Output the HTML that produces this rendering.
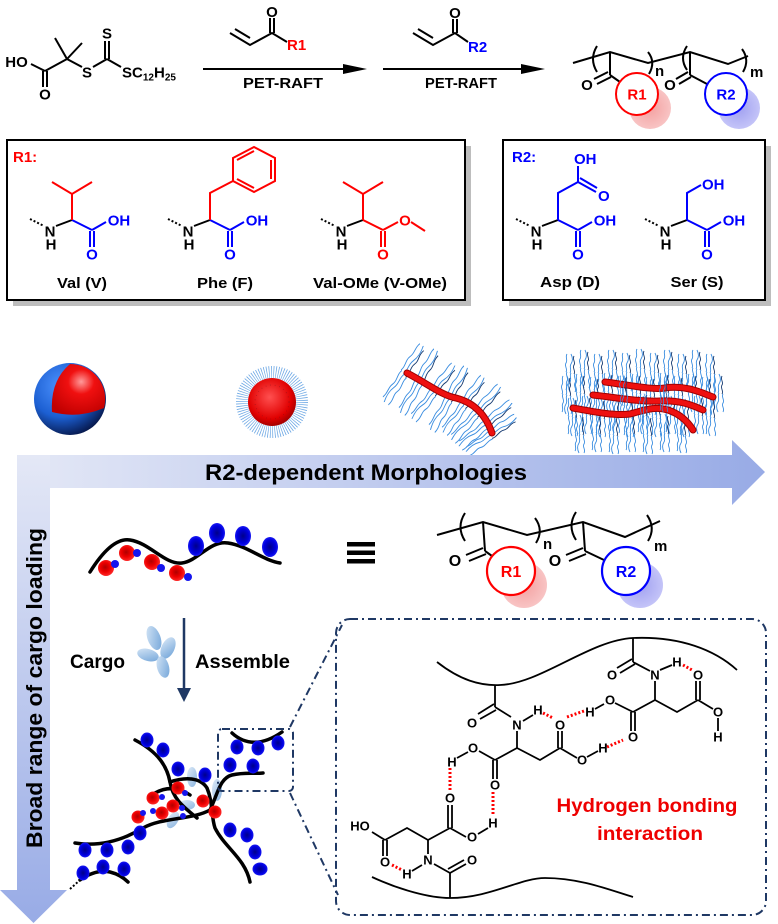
<!DOCTYPE html>
<html><head><meta charset="utf-8">
<style>
html,body{margin:0;padding:0;background:#fff;}
svg{display:block;}
.t{font-family:"Liberation Sans",Arial,sans-serif;font-weight:bold;}
.n{font-family:"Liberation Sans",Arial,sans-serif;}
</style></head><body>
<svg width="778" height="924" viewBox="0 0 778 924">
<defs>
 <linearGradient id="gh" x1="0" x2="1" y1="0" y2="0"><stop offset="0" stop-color="#e4e8f6"/><stop offset="1" stop-color="#98abe6"/></linearGradient>
 <linearGradient id="gv" x1="0" x2="0" y1="0" y2="1"><stop offset="0" stop-color="#e4e8f6"/><stop offset="1" stop-color="#98abe6"/></linearGradient>
 <radialGradient id="sb" cx="0.38" cy="0.32" r="0.72"><stop offset="0" stop-color="#4d93ff"/><stop offset="0.6" stop-color="#1c5fd2"/><stop offset="1" stop-color="#06174a"/></radialGradient>
 <radialGradient id="sr" cx="0.55" cy="0.35" r="0.7"><stop offset="0" stop-color="#ff9a9a"/><stop offset="0.35" stop-color="#f01010"/><stop offset="1" stop-color="#c00000"/></radialGradient>
 <radialGradient id="rb" cx="0.45" cy="0.45" r="0.6"><stop offset="0" stop-color="#b00000"/><stop offset="0.5" stop-color="#ee0000"/><stop offset="1" stop-color="#ff3030"/></radialGradient>
 <radialGradient id="bb" cx="0.5" cy="0.5" r="0.6"><stop offset="0" stop-color="#00008a"/><stop offset="0.6" stop-color="#0000e0"/><stop offset="1" stop-color="#2a2aff"/></radialGradient>
 <radialGradient id="mc" cx="0.45" cy="0.4" r="0.65"><stop offset="0" stop-color="#ff5050"/><stop offset="0.7" stop-color="#e00000"/><stop offset="1" stop-color="#900000"/></radialGradient>
 <linearGradient id="lc" x1="0" x2="1" y1="0" y2="1"><stop offset="0" stop-color="#d9e8f7"/><stop offset="1" stop-color="#6fa3d8"/></linearGradient>
 <radialGradient id="shr" cx="0.5" cy="0.5" r="0.5"><stop offset="0" stop-color="#f4a0a0"/><stop offset="1" stop-color="#f8c4c4"/></radialGradient>
 <radialGradient id="shb" cx="0.5" cy="0.5" r="0.5"><stop offset="0" stop-color="#a0a0f0"/><stop offset="1" stop-color="#c4c4f8"/></radialGradient>
 <g id="tf" fill="none" stroke="#3a8de0" stroke-width="0.9">
  <path d="M0,0 c2,-3 -2,-6 0,-9 s-1,-6 1,-9"/>
  <path d="M4,1 c2,-3 -1,-6 1,-9 s2,-6 0,-10"/>
  <path d="M8,2 c2,-3 -2,-6 0,-9 s-2,-5 0,-9" stroke="#163a70"/>
  <path d="M1,0 c-2,3 2,6 0,9 s1,6 -1,9"/>
  <path d="M5,1 c-2,3 1,6 -1,9 s-2,6 0,10"/>
  <path d="M9,2 c-2,3 2,6 0,9 s2,5 0,9"/>
 </g>
</defs>
<rect width="778" height="924" fill="#fff"/>

<!-- ===== TOP SCHEME ===== -->
<g stroke="#000" stroke-width="2" fill="none">
 <line x1="31" y1="64" x2="45" y2="71"/>
 <line x1="43" y1="71" x2="43" y2="87"/><line x1="47" y1="71" x2="47" y2="87"/>
 <line x1="45" y1="71" x2="67" y2="59"/>
 <line x1="67" y1="59" x2="55" y2="38"/>
 <line x1="67" y1="59" x2="82" y2="43"/>
 <line x1="67" y1="59" x2="82" y2="67"/>
 <line x1="93" y1="67" x2="107" y2="59"/>
 <line x1="105" y1="59" x2="105" y2="41"/><line x1="109" y1="59" x2="109" y2="41"/>
 <line x1="107" y1="59" x2="121" y2="67"/>
 <polyline points="230,33 250,45 272,33 287,42"/>
 <line x1="235" y1="29" x2="250" y2="38"/>
 <line x1="270" y1="33" x2="270" y2="18"/><line x1="274" y1="33" x2="274" y2="18"/>
 <polyline points="413,33 433,45 455,33 468,42"/>
 <line x1="418" y1="29" x2="433" y2="38"/>
 <line x1="453" y1="33" x2="453" y2="19"/><line x1="457" y1="33" x2="457" y2="19"/>
 <line x1="203" y1="69" x2="350" y2="69"/>
 <line x1="383" y1="69" x2="528" y2="69"/>
</g>
<polygon points="343,64 367,69 343,74" fill="#000"/>
<polygon points="521,64 545,69 521,74" fill="#000"/>
<g class="t" font-size="15" fill="#000" text-anchor="middle">
 <text x="16.5" y="67">HO</text>
 <text x="45" y="99.5">O</text>
 <text x="87" y="77.5">S</text>
 <text x="107" y="38.5">S</text>
 <text x="272" y="17">O</text>
 <text x="455" y="18">O</text>
</g>
<text class="t" font-size="15" x="122" y="77.5">SC<tspan font-size="10" dy="3">12</tspan><tspan dy="-3">H</tspan><tspan font-size="10" dy="3">25</tspan></text>
<text class="t" font-size="15" x="287" y="50" fill="#ff0000">R1</text>
<text class="t" font-size="15" x="468" y="52" fill="#0000ff">R2</text>
<text class="t" font-size="15" x="283" y="88" text-anchor="middle" textLength="80" lengthAdjust="spacingAndGlyphs">PET-RAFT</text>
<text class="t" font-size="15" x="461" y="88" text-anchor="middle" textLength="72" lengthAdjust="spacingAndGlyphs">PET-RAFT</text>

<!-- top polymer -->
<circle cx="650" cy="108" r="21" fill="url(#shr)"/>
<circle cx="739" cy="108" r="21" fill="url(#shb)"/>
<g stroke="#000" stroke-width="2" fill="none">
 <polyline points="573,63 610,52 648,63 690,52 728,64 748,56"/>
 <path d="M597,46 Q589,59 597,72"/>
 <path d="M648,52 Q656,62 649,74"/>
 <path d="M687,46 Q679,58 687,70"/>
 <path d="M742,49 Q750,60 743,72"/>
 <line x1="610" y1="52" x2="610" y2="75"/>
 <line x1="608" y1="72" x2="594" y2="79"/><line x1="611" y1="77" x2="597" y2="84"/>
 <line x1="610" y1="75" x2="620" y2="82"/>
 <line x1="690" y1="52" x2="690" y2="75"/>
 <line x1="688" y1="72" x2="676" y2="79"/><line x1="691" y1="77" x2="679" y2="84"/>
 <line x1="690" y1="75" x2="707" y2="84"/>
</g>
<circle cx="637" cy="94" r="21" fill="#fff" stroke="#ff0000" stroke-width="2"/>
<circle cx="726" cy="94" r="21" fill="#fff" stroke="#0000ff" stroke-width="2"/>
<g class="t" font-size="15" text-anchor="middle">
 <text x="587" y="90">O</text>
 <text x="670" y="90">O</text>
 <text x="637" y="99.5" fill="#ff0000">R1</text>
 <text x="726" y="99.5" fill="#0000ff">R2</text>
</g>
<text class="t" font-size="15" x="655" y="76">n</text>
<text class="t" font-size="15" x="750" y="77">m</text>

<!-- ===== R1 BOX ===== -->
<rect x="13" y="146" width="458" height="160" fill="#bdbdbd"/>
<rect x="7" y="140" width="458" height="160" fill="#fff" stroke="#000" stroke-width="2"/>
<!-- ===== R2 BOX ===== -->
<rect x="509" y="146" width="262" height="160" fill="#bdbdbd"/>
<rect x="503" y="140" width="262" height="160" fill="#fff" stroke="#000" stroke-width="2"/>
<text class="t" font-size="15" x="13" y="162" fill="#ff0000">R1:</text>
<text class="t" font-size="15" x="512" y="162" fill="#0000ff">R2:</text>

<g id="aa">
 <line x1="30" y1="219" x2="44" y2="226" stroke="#000" stroke-width="2" stroke-dasharray="2 2"/>
 <line x1="56" y1="226" x2="72" y2="220" stroke="#000" stroke-width="2"/>
 <text class="t" font-size="15" x="50" y="236.5" text-anchor="middle">N</text>
 <text class="t" font-size="15" x="51" y="249.5" text-anchor="middle">H</text>
</g>
<use href="#aa" transform="translate(138,0)"/>
<use href="#aa" transform="translate(291,0)"/>
<use href="#aa" transform="translate(486,0)"/>
<use href="#aa" transform="translate(615,0)"/>

<g id="cooh" stroke="#0000ff" stroke-width="2" fill="none">
 <line x1="72" y1="220" x2="92" y2="230"/>
 <line x1="90" y1="231" x2="90" y2="247"/><line x1="94" y1="231" x2="94" y2="247"/>
 <line x1="92" y1="230" x2="106" y2="222"/>
</g>
<use href="#cooh" transform="translate(138,0)"/>
<use href="#cooh" transform="translate(486,0)"/>
<use href="#cooh" transform="translate(615,0)"/>
<g class="t" font-size="15" fill="#0000ff" text-anchor="middle">
 <text x="92" y="259.5">O</text><text x="230" y="259.5">O</text><text x="578" y="259.5">O</text><text x="707" y="259.5">O</text>
 <text x="119" y="225.5">OH</text><text x="257" y="225.5">OH</text><text x="605" y="225.5">OH</text><text x="734" y="225.5">OH</text>
</g>
<g stroke="#ff0000" stroke-width="2" fill="none">
 <polyline points="52,182 72,194 92,182"/><line x1="72" y1="194" x2="72" y2="220"/>
 <polyline points="210,220 210,193 233,181"/>
 <polygon points="233,181 233,158 254,147 275,158 275,181 254,192"/>
 <line x1="237" y1="160" x2="254" y2="151"/>
 <line x1="271" y1="160" x2="271" y2="179"/>
 <line x1="254" y1="188" x2="237" y2="179"/>
 <polyline points="343,182 363,194 383,182"/><line x1="363" y1="194" x2="363" y2="220"/>
 <line x1="363" y1="220" x2="383" y2="230"/>
 <line x1="381" y1="231" x2="381" y2="247"/><line x1="385" y1="231" x2="385" y2="247"/>
 <line x1="383" y1="230" x2="398" y2="222"/>
 <line x1="411" y1="222" x2="425" y2="231"/>
</g>
<g class="t" font-size="15" fill="#ff0000" text-anchor="middle">
 <text x="383" y="259.5">O</text><text x="405" y="225.5">O</text>
</g>
<g stroke="#0000ff" stroke-width="2" fill="none">
 <polyline points="558,220 558,193 578,182"/>
 <line x1="578" y1="182" x2="578" y2="166"/>
 <line x1="578" y1="182" x2="596" y2="192"/><line x1="580" y1="178" x2="597" y2="188"/>
 <polyline points="687,220 687,193 701,185"/>
</g>
<g class="t" font-size="15" fill="#0000ff">
 <text x="574" y="164">OH</text>
 <text x="598" y="201">O</text>
 <text x="702" y="189.5">OH</text>
</g>
<g class="t" font-size="15" text-anchor="middle">
 <text x="82" y="288" textLength="50" lengthAdjust="spacingAndGlyphs">Val (V)</text>
 <text x="225" y="288" textLength="56" lengthAdjust="spacingAndGlyphs">Phe (F)</text>
 <text x="380" y="288" textLength="134" lengthAdjust="spacingAndGlyphs">Val-OMe (V-OMe)</text>
 <text x="570" y="287" textLength="60" lengthAdjust="spacingAndGlyphs">Asp (D)</text>
 <text x="697" y="287" textLength="53" lengthAdjust="spacingAndGlyphs">Ser (S)</text>
</g>

<!-- ===== MORPHOLOGIES ===== -->
<circle cx="70" cy="399" r="36" fill="url(#sb)"/>
<path d="M70,364 Q50,381 52,412 Q78,419 104,408 A35,35 0 0 0 70,364 Z" fill="url(#sr)"/>

<circle cx="272" cy="402" r="30" fill="none" stroke="#6aa6e4" stroke-width="12" stroke-dasharray="0.7 1.6"/>
<circle cx="272" cy="402" r="24" fill="url(#mc)"/>
<circle cx="272" cy="402" r="17" fill="none" stroke="#5a1020" stroke-width="0.8" stroke-dasharray="0.6 4" opacity="0.6"/>

<!-- worm -->
<g>
 <use href="#tf" transform="translate(401,370) rotate(34) scale(1,1.8)"/>
 <use href="#tf" transform="translate(416,378) rotate(30) scale(1,1.9)"/>
 <use href="#tf" transform="translate(431,388) rotate(38) scale(1,1.8)"/>
 <use href="#tf" transform="translate(446,395) rotate(30) scale(1,1.9)"/>
 <use href="#tf" transform="translate(461,401) rotate(36) scale(1,1.8)"/>
 <use href="#tf" transform="translate(474,409) rotate(42) scale(1,1.9)"/>
 <use href="#tf" transform="translate(484,420) rotate(50) scale(1,1.8)"/>
 <use href="#tf" transform="translate(490,430) rotate(55) scale(1,1.6)"/>
 <path d="M407,373 C428,384 443,396 456,398 C472,402 485,413 492,433" fill="none" stroke="#a00000" stroke-width="7" stroke-linecap="round"/>
 <path d="M407,373 C428,384 443,396 456,398 C472,402 485,413 492,433" fill="none" stroke="#ee1010" stroke-width="5" stroke-linecap="round"/>
</g>

<!-- fibres -->
<g>
 <use href="#tf" transform="translate(566,372)"/><use href="#tf" transform="translate(580,368)"/><use href="#tf" transform="translate(594,372)"/><use href="#tf" transform="translate(608,368)"/><use href="#tf" transform="translate(622,371)"/><use href="#tf" transform="translate(636,367)"/><use href="#tf" transform="translate(650,371)"/><use href="#tf" transform="translate(664,368)"/><use href="#tf" transform="translate(678,372)"/><use href="#tf" transform="translate(692,368)"/><use href="#tf" transform="translate(706,372)"/>
 <use href="#tf" transform="translate(562,394)"/><use href="#tf" transform="translate(576,392)"/><use href="#tf" transform="translate(590,395)"/><use href="#tf" transform="translate(604,391)"/><use href="#tf" transform="translate(618,394)"/><use href="#tf" transform="translate(632,392)"/><use href="#tf" transform="translate(646,395)"/><use href="#tf" transform="translate(660,391)"/><use href="#tf" transform="translate(674,394)"/><use href="#tf" transform="translate(688,392)"/><use href="#tf" transform="translate(702,395)"/><use href="#tf" transform="translate(714,392)"/>
 <use href="#tf" transform="translate(568,416)"/><use href="#tf" transform="translate(582,414)"/><use href="#tf" transform="translate(596,417)"/><use href="#tf" transform="translate(610,413)"/><use href="#tf" transform="translate(624,417)"/><use href="#tf" transform="translate(638,414)"/><use href="#tf" transform="translate(652,417)"/><use href="#tf" transform="translate(666,414)"/><use href="#tf" transform="translate(680,417)"/><use href="#tf" transform="translate(694,414)"/><use href="#tf" transform="translate(706,416)"/>
 <use href="#tf" transform="translate(575,433)"/><use href="#tf" transform="translate(592,432)"/><use href="#tf" transform="translate(609,434)"/><use href="#tf" transform="translate(626,432)"/><use href="#tf" transform="translate(643,434)"/><use href="#tf" transform="translate(660,432)"/><use href="#tf" transform="translate(677,433)"/>
 <g fill="none" stroke-linecap="round">
  <path d="M605,382 C630,385 650,390 665,388 C685,385 700,392 713,397" stroke="#a00000" stroke-width="7"/>
  <path d="M605,382 C630,385 650,390 665,388 C685,385 700,392 713,397" stroke="#ee1010" stroke-width="5"/>
  <path d="M593,395 C620,398 640,402 660,401 C680,400 692,405 703,410" stroke="#a00000" stroke-width="7"/>
  <path d="M593,395 C620,398 640,402 660,401 C680,400 692,405 703,410" stroke="#ee1010" stroke-width="5"/>
  <path d="M573,408 C595,412 615,416 630,414 C645,410 655,406 668,410 C680,414 688,422 693,430" stroke="#a00000" stroke-width="7"/>
  <path d="M573,408 C595,412 615,416 630,414 C645,410 655,406 668,410 C680,414 688,422 693,430" stroke="#ee1010" stroke-width="5"/>
 </g>
 <use href="#tf" transform="translate(620,390) scale(0.8)"/><use href="#tf" transform="translate(660,396) scale(0.8)"/><use href="#tf" transform="translate(640,408) scale(0.8)"/>
</g>

<!-- big arrows -->
<polygon points="17,455 732,455 732,440 765,472 732,505 732,488 17,488" fill="url(#gh)"/>
<polygon points="17,455 50,455 50,890 67,890 33.5,923 0,890 17,890" fill="url(#gv)"/>
<text class="t" font-size="22" x="205" y="480" textLength="322" lengthAdjust="spacingAndGlyphs">R2-dependent Morphologies</text>
<text class="t" font-size="22" transform="translate(42,688) rotate(-90)" x="0" y="0" text-anchor="middle" textLength="320" lengthAdjust="spacingAndGlyphs">Broad range of cargo loading</text>

<!-- ===== chain with beads ===== -->
<g>
 <path d="M90,572 C105,548 118,538 130,540 C150,543 165,565 182,563 C198,561 210,540 228,543 C248,546 262,560 280,563" fill="none" stroke="#000" stroke-width="3.5" stroke-linecap="round"/>
 <g fill="url(#rb)"><circle cx="106" cy="568" r="8"/><circle cx="127" cy="553" r="8"/><circle cx="152" cy="562" r="8"/><circle cx="177" cy="573" r="8"/></g>
 <g fill="#1515ee"><circle cx="115" cy="564" r="4"/><circle cx="137" cy="553" r="4"/><circle cx="161" cy="568" r="4"/><circle cx="188" cy="577" r="4"/></g>
 <g fill="url(#bb)"><ellipse cx="196" cy="546" rx="8" ry="10"/><ellipse cx="217" cy="533" rx="8" ry="10"/><ellipse cx="243" cy="536" rx="8" ry="10"/><ellipse cx="270" cy="547" rx="8" ry="10"/></g>
</g>
<g fill="#000"><rect x="347" y="542" width="28" height="4.5"/><rect x="347" y="550.5" width="28" height="4.5"/><rect x="347" y="559" width="28" height="4.5"/></g>

<!-- middle polymer -->
<circle cx="524" cy="585" r="23" fill="url(#shr)"/>
<circle cx="640" cy="585" r="23" fill="url(#shb)"/>
<g stroke="#000" stroke-width="2" fill="none">
 <polyline points="437,535 483,522 527,535 583,522 625,537 660,521"/>
 <path d="M465,513 Q456,527 465,541"/>
 <path d="M535,518 Q544,530 536,543"/>
 <path d="M576,512 Q567,526 576,540"/>
 <path d="M647,515 Q656,528 648,541"/>
 <line x1="483" y1="522" x2="485" y2="551"/>
 <line x1="483" y1="548" x2="466" y2="555"/><line x1="486" y1="554" x2="469" y2="561"/>
 <line x1="485" y1="551" x2="492" y2="556"/>
 <line x1="583" y1="522" x2="585" y2="551"/>
 <line x1="583" y1="548" x2="566" y2="555"/><line x1="586" y1="554" x2="569" y2="561"/>
 <line x1="585" y1="551" x2="604" y2="560"/>
</g>
<circle cx="511" cy="571" r="24" fill="#fff" stroke="#ff0000" stroke-width="2.2"/>
<circle cx="626" cy="571" r="24" fill="#fff" stroke="#0000ff" stroke-width="2.2"/>
<g class="t" font-size="16" text-anchor="middle">
 <text x="455" y="566">O</text><text x="555" y="566">O</text>
 <text x="511" y="577" fill="#ff0000">R1</text>
 <text x="626" y="577" fill="#0000ff">R2</text>
</g>
<text class="t" font-size="15" x="543" y="549">n</text>
<text class="t" font-size="15" x="654" y="551">m</text>

<!-- cargo / assemble -->
<g fill="url(#lc)">
 <ellipse cx="154" cy="638" rx="6.5" ry="12.5" transform="rotate(-20 154 638)"/>
 <ellipse cx="168" cy="648" rx="6.5" ry="11.5" transform="rotate(25 168 648)"/>
 <ellipse cx="148" cy="655" rx="11" ry="6" transform="rotate(15 148 655)"/>
 <ellipse cx="163" cy="667" rx="6" ry="11" transform="rotate(-15 163 667)"/>
</g>
<line x1="184" y1="618" x2="184" y2="692" stroke="#1f3864" stroke-width="2.5"/>
<polygon points="177,688 191,688 184,702" fill="#1f3864"/>
<text class="t" font-size="19" x="70" y="668" textLength="55" lengthAdjust="spacingAndGlyphs">Cargo</text>
<text class="t" font-size="19" x="195" y="668" textLength="95" lengthAdjust="spacingAndGlyphs">Assemble</text>

<!-- network -->
<g fill="url(#lc)" opacity="0.8">
 <ellipse cx="192" cy="777" rx="5" ry="10"/>
 <ellipse cx="217" cy="790" rx="5" ry="11"/>
 <ellipse cx="173" cy="820" rx="5" ry="9" transform="rotate(30 173 820)"/>
 <ellipse cx="187" cy="805" rx="8" ry="5"/>
</g>
<g fill="none" stroke="#000" stroke-width="3.5" stroke-linecap="round">
 <path d="M135,740 C158,752 167,766 170,782 C173,800 185,808 197,818"/>
 <path d="M170,782 C185,777 200,777 207,788 C213,802 211,816 215,828 C225,848 245,858 250,882"/>
 <path d="M75,843 C100,847 123,840 143,828 C163,817 192,820 210,810 C218,793 220,778 232,775 C245,772 255,774 263,773"/>
 <path d="M155,793 C168,786 180,788 190,795"/>
 <path d="M232,733 C245,745 262,746 282,732"/>
 <path d="M80,880 C90,873 100,870 110,872 C118,874 124,878 128,882"/>
</g>
<line x1="70" y1="889" x2="80" y2="880" stroke="#000" stroke-width="2" stroke-dasharray="2 2"/>
<g fill="url(#bb)">
 <ellipse cx="147" cy="740" rx="6.5" ry="7.5"/><ellipse cx="163" cy="750" rx="6.5" ry="7.5"/><ellipse cx="178" cy="769" rx="6.5" ry="7.5"/>
 <ellipse cx="205" cy="775" rx="6.5" ry="7.5"/><ellipse cx="230" cy="765" rx="6.5" ry="7.5"/><ellipse cx="253" cy="766" rx="6.5" ry="7.5"/>
 <ellipse cx="237" cy="747" rx="6.5" ry="7.5"/><ellipse cx="258" cy="748" rx="6.5" ry="7.5"/><ellipse cx="278" cy="743" rx="6.5" ry="7.5"/>
 <ellipse cx="140" cy="833" rx="6.5" ry="7.5"/><ellipse cx="128" cy="847" rx="6.5" ry="7.5"/><ellipse cx="107" cy="850" rx="6.5" ry="7.5"/>
 <ellipse cx="85" cy="850" rx="6.5" ry="7.5"/><ellipse cx="103" cy="867" rx="6.5" ry="7.5"/><ellipse cx="83" cy="873" rx="6.5" ry="7.5"/>
 <ellipse cx="124" cy="869" rx="6.5" ry="7.5"/><ellipse cx="230" cy="830" rx="6.5" ry="7.5"/><ellipse cx="247" cy="835" rx="6.5" ry="7.5"/>
 <ellipse cx="255" cy="852" rx="6.5" ry="7.5"/><ellipse cx="260" cy="869" rx="7.5" ry="6.5"/>
</g>
<g fill="url(#rb)">
 <circle cx="178" cy="788" r="6.5"/><circle cx="153" cy="798" r="6.5"/><circle cx="173" cy="806" r="6.5"/>
 <circle cx="162" cy="813" r="6.5"/><circle cx="138" cy="817" r="6.5"/><circle cx="203" cy="801" r="6.5"/><circle cx="215" cy="812" r="6.5"/>
</g>
<g fill="#1515ee">
 <circle cx="162" cy="797" r="3"/><circle cx="185" cy="793" r="3"/><circle cx="143" cy="813" r="3"/>
 <circle cx="153" cy="811" r="3"/><circle cx="182" cy="808" r="3"/><circle cx="183" cy="816" r="3"/>
</g>

<!-- dash-dot boxes & connectors -->
<g fill="none" stroke="#1f3864" stroke-width="2" stroke-dasharray="8 4 2 4">
 <rect x="218" y="729" width="75" height="62" rx="4"/>
 <line x1="290" y1="727" x2="342" y2="625"/>
 <line x1="290" y1="793" x2="338" y2="895"/>
 <rect x="336" y="619" width="430" height="296" rx="14"/>
</g>

<!-- H-bond structure -->
<g stroke="#000" stroke-width="1.8" fill="none">
 <path d="M437,662 C460,680 480,686 500,685 C540,684 590,640 633,638 C680,636 715,650 737,670"/>
 <path d="M372,877 C400,890 430,898 450,898 C490,898 520,878 545,878 C580,878 610,890 633,897"/>
 <line x1="495" y1="685" x2="495" y2="707"/>
 <line x1="494" y1="704" x2="478" y2="714"/><line x1="496" y1="710" x2="480" y2="719"/>
 <line x1="495" y1="707" x2="511" y2="717"/>
 <line x1="523" y1="721" x2="533" y2="715"/>
 <line x1="517" y1="731" x2="517" y2="748"/>
 <line x1="517" y1="748" x2="495" y2="760"/>
 <line x1="493" y1="760" x2="493" y2="779"/><line x1="497" y1="760" x2="497" y2="779"/>
 <line x1="495" y1="760" x2="479" y2="751"/>
 <line x1="468" y1="752" x2="457" y2="758"/>
 <polyline points="517,748 540,760 560,748"/>
 <line x1="558" y1="748" x2="558" y2="731"/><line x1="562" y1="748" x2="562" y2="731"/>
 <line x1="560" y1="748" x2="577" y2="758"/>
 <line x1="587" y1="757" x2="598" y2="751"/>
 <line x1="633" y1="638" x2="633" y2="662"/>
 <line x1="632" y1="659" x2="617" y2="668"/><line x1="635" y1="664" x2="620" y2="673"/>
 <line x1="633" y1="662" x2="650" y2="671"/>
 <line x1="660" y1="670" x2="672" y2="665"/>
 <line x1="655" y1="681" x2="655" y2="700"/>
 <line x1="655" y1="700" x2="633" y2="712"/>
 <line x1="633" y1="712" x2="615" y2="703"/>
 <line x1="604" y1="704" x2="595" y2="709"/>
 <line x1="631" y1="712" x2="631" y2="731"/><line x1="635" y1="712" x2="635" y2="731"/>
 <polyline points="655,700 677,712 698,700"/>
 <line x1="696" y1="700" x2="696" y2="681"/><line x1="700" y1="700" x2="700" y2="681"/>
 <line x1="698" y1="700" x2="713" y2="709"/>
 <line x1="718" y1="718" x2="718" y2="731"/>
 <line x1="450" y1="898" x2="450" y2="873"/>
 <line x1="450" y1="873" x2="466" y2="864"/><line x1="448" y1="869" x2="464" y2="860"/>
 <line x1="450" y1="873" x2="434" y2="864"/>
 <line x1="422" y1="865" x2="412" y2="871"/>
 <line x1="428" y1="854" x2="428" y2="840"/>
 <polyline points="428,840 407,828 385,840"/>
 <line x1="383" y1="840" x2="383" y2="856"/><line x1="387" y1="840" x2="387" y2="856"/>
 <line x1="385" y1="840" x2="372" y2="832"/>
 <line x1="428" y1="840" x2="450" y2="828"/>
 <line x1="448" y1="828" x2="448" y2="805"/><line x1="452" y1="828" x2="452" y2="805"/>
 <line x1="450" y1="828" x2="466" y2="837"/>
 <line x1="478" y1="834" x2="488" y2="828"/>
</g>
<g stroke="#ff0000" stroke-width="3" stroke-dasharray="2 2" fill="none">
 <line x1="543" y1="713" x2="553" y2="718"/>
 <line x1="567" y1="717" x2="584" y2="711"/>
 <line x1="607" y1="747" x2="623" y2="740"/>
 <line x1="683" y1="665" x2="692" y2="670"/>
 <line x1="450" y1="768" x2="450" y2="791"/>
 <line x1="493" y1="792" x2="493" y2="815"/>
 <line x1="392" y1="865" x2="402" y2="870"/>
</g>
<g class="t" font-size="13" text-anchor="middle" fill="#000">
 <text x="472" y="727.5">O</text><text x="517" y="729.5">N</text><text x="538" y="714.5">H</text>
 <text x="473" y="752.5">O</text><text x="452" y="766.5">H</text><text x="495" y="789.5">O</text>
 <text x="560" y="729.5">O</text><text x="582" y="764.5">O</text><text x="603" y="752.5">H</text>
 <text x="612" y="679.5">O</text><text x="655" y="679.5">N</text><text x="677" y="666.5">H</text>
 <text x="698" y="679.5">O</text><text x="610" y="704.5">O</text><text x="590" y="716.5">H</text>
 <text x="633" y="741.5">O</text><text x="718" y="716.5">O</text><text x="718" y="741.5">H</text>
 <text x="472" y="864.5">O</text><text x="428" y="864.5">N</text><text x="407" y="878.5">H</text>
 <text x="385" y="866.5">O</text><text x="360" y="830.5">HO</text><text x="450" y="802.5">O</text>
 <text x="472" y="841.5">O</text><text x="493" y="827.5">H</text>
</g>
<text class="t" font-size="19" x="647" y="812" fill="#ee0000" text-anchor="middle" textLength="181" lengthAdjust="spacingAndGlyphs">Hydrogen bonding</text>
<text class="t" font-size="19" x="650" y="840" fill="#ee0000" text-anchor="middle" textLength="106" lengthAdjust="spacingAndGlyphs">interaction</text>
</svg>
</body></html>
